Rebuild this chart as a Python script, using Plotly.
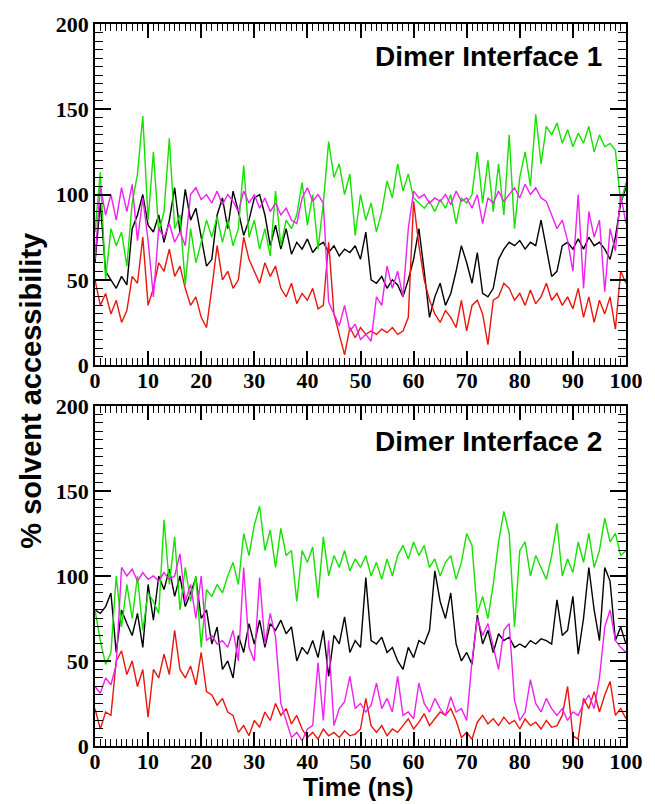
import plotly.graph_objects as go

time_ns = list(range(0, 101))

# ---- Dimer Interface 1 ----
di1_black = [60, 95, 55, 50, 45, 52, 47, 80, 88, 100, 82, 78, 88, 72, 85, 104, 78, 103, 85, 92,
             75, 58, 62, 88, 98, 80, 102, 90, 76, 85, 98, 100, 88, 70, 82, 68, 80, 65, 72, 68,
             74, 66, 70, 72, 66, 70, 64, 68, 66, 70, 62, 78, 50, 48, 52, 45, 50, 47, 40, 50,
             62, 80, 55, 28, 40, 48, 35, 42, 55, 70, 60, 48, 66, 42, 40, 45, 62, 68, 72, 70,
             73, 68, 72, 70, 85, 68, 52, 55, 70, 72, 68, 74, 68, 75, 70, 72, 68, 62, 75, 95, 104]
di1_red = [50, 35, 42, 30, 38, 25, 32, 52, 48, 75, 35, 45, 60, 55, 68, 52, 58, 45, 35, 40,
           28, 22, 45, 70, 50, 55, 45, 50, 75, 62, 55, 48, 60, 52, 58, 45, 40, 48, 36, 42,
           38, 45, 33, 35, 72, 30, 18, 6, 22, 16, 22, 18, 20, 18, 21, 19, 22, 18, 20, 28,
           96, 70, 50, 38, 30, 25, 32, 28, 22, 38, 20, 35, 38, 30, 12, 38, 40, 48, 45, 38,
           42, 35, 44, 36, 40, 48, 38, 42, 35, 40, 33, 45, 28, 40, 25, 38, 30, 40, 21, 55, 48]
di1_green = [78, 113, 50, 80, 70, 78, 58, 95, 112, 146, 85, 125, 78, 90, 133, 80, 88, 47, 80, 60,
             72, 85, 75, 87, 72, 85, 70, 80, 117, 75, 85, 68, 80, 64, 102, 70, 85, 80, 88, 107,
             82, 100, 68, 95, 131, 110, 118, 100, 112, 76, 100, 85, 95, 78, 90, 108, 98, 118, 102, 112,
             98, 95, 92, 96, 90, 97, 92, 100, 83, 98, 95, 100, 125, 95, 120, 90, 118, 88, 135, 80,
             110, 125, 105, 147, 118, 140, 135, 142, 130, 138, 128, 136, 130, 140, 125, 135, 128, 130, 126, 95, 107]
di1_magenta = [62, 105, 88, 100, 85, 104, 90, 106, 73, 98, 73, 40, 80, 75, 83, 72, 78, 70, 100, 104,
               97, 100, 95, 102, 94, 100, 96, 90, 102, 95, 100, 92, 98, 90, 95, 88, 92, 85, 83, 98,
               104, 96, 100, 95, 37, 30, 23, 35, 20, 24, 15, 18, 14, 40, 35, 58, 45, 55, 40, 80,
               102, 98, 100, 95, 98, 96, 100, 94, 102, 96, 98, 92, 100, 83, 98, 95, 102, 96, 100, 104,
               98, 106, 100, 104, 98, 96, 88, 80, 85, 73, 55, 100, 45, 90, 75, 85, 43, 80, 67, 100, 83]

# ---- Dimer Interface 2 ----
di2_black = [80, 78, 82, 90, 55, 80, 72, 65, 78, 58, 95, 74, 100, 92, 104, 88, 100, 82, 90, 99,
             75, 80, 60, 70, 45, 50, 40, 65, 55, 72, 60, 74, 58, 72, 68, 74, 66, 70, 50, 58,
             54, 62, 52, 68, 41, 65, 60, 76, 55, 62, 58, 99, 62, 60, 64, 55, 58, 50, 45, 58,
             52, 62, 60, 68, 103, 85, 75, 90, 60, 50, 55, 48, 77, 60, 68, 55, 66, 62, 64, 58,
             60, 58, 62, 60, 63, 62, 60, 86, 65, 68, 88, 54, 75, 105, 80, 62, 105, 97, 62, 70, 60]
di2_red = [22, 10, 20, 18, 50, 56, 42, 50, 35, 45, 17, 45, 40, 54, 42, 68, 45, 40, 47, 36,
           55, 32, 30, 24, 28, 20, 18, 8, 12, 6, 15, 11, 20, 15, 25, 18, 22, 13, 18, 10,
           5, 8, 4, 10, 6, 8, 5, 9, 6, 7, 10, 28, 12, 8, 12, 6, 10, 8, 12, 16,
           10, 14, 19, 12, 16, 20, 18, 22, 15, 5, 8, 4, 14, 18, 13, 16, 12, 17, 13, 15,
           10, 16, 12, 14, 10, 15, 11, 12, 18, 35, 6, 4, 28, 22, 32, 20, 30, 38, 18, 22, 16]
di2_green = [80, 62, 48, 55, 100, 70, 95, 75, 100, 68, 90, 85, 78, 133, 95, 123, 80, 105, 85, 100,
             58, 92, 88, 95, 90, 100, 108, 95, 125, 112, 130, 141, 115, 127, 105, 128, 112, 115, 85, 115,
             108, 117, 87, 123, 100, 112, 105, 115, 103, 110, 105, 112, 100, 108, 98, 110, 100, 112, 118, 110,
             120, 112, 118, 105, 110, 100, 108, 112, 98, 108, 125, 118, 78, 88, 75, 95, 120, 138, 125, 70,
             115, 120, 100, 112, 105, 98, 112, 131, 100, 110, 102, 120, 108, 125, 105, 115, 134, 120, 125, 112, 115]
di2_magenta = [35, 31, 40, 36, 48, 105, 100, 104, 97, 102, 98, 100, 97, 102, 98, 100, 113, 85, 95, 75,
               100, 62, 65, 60, 62, 58, 68, 50, 105, 58, 50, 99, 60, 78, 64, 25, 15, 5, 8, 3,
               10, 12, 49, 15, 62, 12, 22, 26, 41, 22, 25, 20, 24, 37, 22, 28, 20, 41, 18, 20,
               16, 37, 25, 20, 28, 22, 18, 29, 20, 22, 15, 50, 75, 65, 72, 58, 45, 68, 72, 27,
               15, 20, 39, 25, 20, 28, 22, 18, 22, 15, 20, 18, 25, 30, 22, 40, 70, 80, 62, 58, 55]

x_ticks = [0, 10, 20, 30, 40, 50, 60, 70, 80, 90, 100]
y_ticks = [0, 50, 100, 150, 200]
panel_titles = ["Dimer Interface 1", "Dimer Interface 2"]

colors = {"black": "#000000", "red": "#e8160c", "green": "#16e000", "magenta": "#f020f0"}
series = [
    (di1_black, di2_black, "black"),
    (di1_red, di2_red, "red"),
    (di1_green, di2_green, "green"),
    (di1_magenta, di2_magenta, "magenta"),
]

fig = go.Figure()
for s1, s2, c in series:
    fig.add_trace(go.Scatter(x=time_ns, y=s1, mode="lines", line=dict(color=colors[c], width=1.4),
                             xaxis="x", yaxis="y", showlegend=False))
    fig.add_trace(go.Scatter(x=time_ns, y=s2, mode="lines", line=dict(color=colors[c], width=1.4),
                             xaxis="x2", yaxis="y2", showlegend=False))

tickfont = dict(family="Liberation Serif", size=22, color="black", weight="bold")

def xax(anchor):
    return dict(range=[0, 100], tickvals=x_ticks, ticks="inside", ticklen=14, tickwidth=1.5,
                tickcolor="black", mirror="ticks", showline=True, linecolor="black", linewidth=1.8,
                showgrid=False, zeroline=False, tickfont=tickfont, anchor=anchor,
                ticklabelstandoff=-5,
                minor=dict(dtick=1, ticks="inside", ticklen=7, tickwidth=1.2, tickcolor="black",
                           showgrid=False))

def yax(anchor, domain):
    return dict(range=[0, 200], tickvals=y_ticks, ticks="inside", ticklen=16, tickwidth=1.5,
                tickcolor="black", mirror="ticks", showline=True, linecolor="black", linewidth=1.8,
                showgrid=False, zeroline=False, tickfont=tickfont, anchor=anchor, domain=domain,
                minor=dict(dtick=5, ticks="inside", ticklen=8, tickwidth=1.2, tickcolor="black",
                           showgrid=False))

fig.update_layout(
    width=655, height=804,
    margin=dict(l=95, r=23, t=22, b=58),
    plot_bgcolor="white", paper_bgcolor="white",
    xaxis=xax("y"),
    yaxis=yax("x", [0.5276, 1.0]),
    xaxis2=xax("y2"),
    yaxis2=yax("x2", [0.0, 0.471]),
)

titlefont = dict(family="Liberation Sans", size=28, color="black", weight="bold")
fig.add_annotation(text=panel_titles[0], x=95.8, y=181, xref="x", yref="y",
                   xanchor="right", yanchor="middle", showarrow=False, font=titlefont)
fig.add_annotation(text=panel_titles[1], x=95.8, y=179, xref="x2", yref="y2",
                   xanchor="right", yanchor="middle", showarrow=False, font=titlefont)

fig.add_annotation(text="% solvent accessibility", textangle=-90, x=30, y=390,
                   xref="paper", yref="paper", showarrow=False,
                   font=dict(family="Liberation Sans", size=29, color="black", weight="bold"))
fig.add_annotation(text="Time (ns)", x=361, y=787, xref="paper", yref="paper", showarrow=False,
                   font=dict(family="Liberation Sans", size=25, color="black", weight="bold"))

# convert pixel positions for the two axis titles into paper coords
for ann in fig.layout.annotations[2:]:
    ann.x = (ann.x - 95) / (655 - 95 - 23)
    ann.y = (804 - 58 - ann.y) / (804 - 22 - 58)
    ann.xanchor = "center"
    ann.yanchor = "middle"

fig.write_html("out.html")
